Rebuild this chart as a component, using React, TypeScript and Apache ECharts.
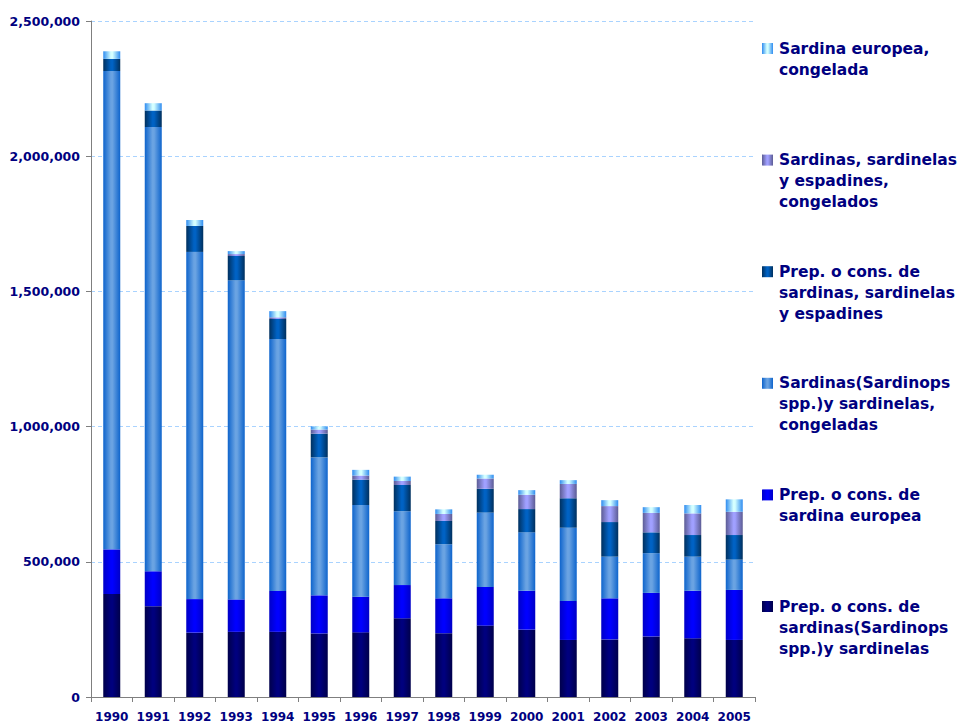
import React, { useEffect, useRef } from "react";
import * as echarts from "echarts";

const years = ["1990", "1991", "1992", "1993", "1994", "1995", "1996", "1997", "1998", "1999", "2000", "2001", "2002", "2003", "2004", "2005"];

// bottom -> top of each stack
const prepSardinops = [381000, 336000, 238000, 241000, 241000, 235000, 239000, 291000, 236000, 264000, 249000, 211000, 213000, 224000, 217000, 211000];
const prepEuropea = [165000, 129000, 124000, 120000, 151000, 141000, 132000, 123000, 129000, 143000, 144000, 144000, 152000, 161000, 176000, 185000];
const congSardinops = [1769000, 1643000, 1284000, 1180000, 932000, 510000, 339000, 273000, 200000, 275000, 216000, 271000, 154000, 147000, 126000, 112000];
const prepEspadines = [45000, 61000, 96000, 90000, 74000, 88000, 94000, 97000, 86000, 88000, 86000, 109000, 128000, 77000, 80000, 91000];
const congEspadines = [0, 0, 0, 7000, 6000, 15000, 15000, 15000, 26000, 38000, 53000, 53000, 59000, 72000, 80000, 86000];
const congEuropea = [28000, 27000, 22000, 11000, 23000, 12000, 21000, 16000, 17000, 14000, 17000, 14000, 22000, 21000, 31000, 46000];

const seriesNames = [
  "Prep. o cons. de\nsardinas(Sardinops\nspp.)y sardinelas",
  "Prep. o cons. de\nsardina europea",
  "Sardinas(Sardinops\nspp.)y sardinelas,\ncongeladas",
  "Prep. o cons. de\nsardinas, sardinelas\ny espadines",
  "Sardinas, sardinelas\ny espadines,\ncongelados",
  "Sardina europea,\ncongelada",
];
const seriesData = [prepSardinops, prepEuropea, congSardinops, prepEspadines, congEspadines, congEuropea];

const edgeColors = ["#00004a", "#0000c8", "#0e64cc", "#00305e", "#5c5c94", "#2f8cf0"];
const centerColors = ["#00007e", "#0000ff", "#6aa3e2", "#0062c4", "#a0a0ff", "#d4ffff"];

const grad = (i: number) => ({
  type: "linear",
  x: 0,
  y: 0,
  x2: 1,
  y2: 0,
  colorStops: [
    { offset: 0, color: edgeColors[i] },
    { offset: 0.45, color: centerColors[i] },
    { offset: 0.55, color: centerColors[i] },
    { offset: 1, color: edgeColors[i] },
  ],
});

const fmt = (v: number) => String(v).replace(/\B(?=(\d{3})+(?!\d))/g, ",");

export default function App() {
  const ref = useRef<HTMLDivElement>(null);
  useEffect(() => {
    if (!ref.current) return;
    const chart = echarts.init(ref.current, null, { renderer: "svg" });
    const legendGraphics: any[] = [];
    const order = [5, 4, 3, 2, 1, 0];
    order.forEach((si, k) => {
      const top = 38 + 111.6 * k;
      legendGraphics.push({
        type: "rect",
        shape: { x: 762, y: top + 5, width: 11, height: 11 },
        style: { fill: grad(si) },
      });
      legendGraphics.push({
        type: "text",
        x: 779,
        y: top,
        style: {
          text: seriesNames[si],
          fontFamily: "DejaVu Sans",
          fontWeight: "bold",
          fontSize: 15.5,
          lineHeight: 21,
          fill: "#000080",
          verticalAlign: "top",
          align: "left",
        },
      });
    });
    chart.setOption({
      animation: false,
      backgroundColor: "#ffffff",
      grid: { left: 91, right: 204, top: 21, bottom: 30, containLabel: false },
      xAxis: {
        type: "category",
        data: years,
        axisLine: { lineStyle: { color: "#7f7f7f", width: 1 } },
        axisTick: { show: true, length: 5, interval: 0, lineStyle: { color: "#7f7f7f" } },
        axisLabel: {
          interval: 0,
          margin: 14,
          color: "#000080",
          fontFamily: "DejaVu Sans",
          fontWeight: "bold",
          fontSize: 12,
        },
      },
      yAxis: {
        type: "value",
        min: 0,
        max: 2500000,
        interval: 500000,
        axisLine: { show: true, lineStyle: { color: "#7f7f7f", width: 1 } },
        axisTick: { show: true, length: 5, lineStyle: { color: "#7f7f7f" } },
        splitLine: { show: true, lineStyle: { color: "#a9d3ff", type: [4, 3], width: 1 } },
        axisLabel: {
          margin: 11,
          color: "#000080",
          fontFamily: "DejaVu Sans",
          fontWeight: "bold",
          fontSize: 12.5,
          formatter: (v: number) => fmt(v),
        },
      },
      series: seriesData.map((d, i) => ({
        name: seriesNames[i],
        type: "bar",
        stack: "total",
        barWidth: 17,
        data: d,
        itemStyle: { color: grad(i) },
      })),
      graphic: legendGraphics,
    });
    return () => chart.dispose();
  }, []);
  return (
    <div
      ref={ref}
      style={{ position: "fixed", left: 0, top: 0, width: 959, height: 727, background: "#fff" }}
    />
  );
}
